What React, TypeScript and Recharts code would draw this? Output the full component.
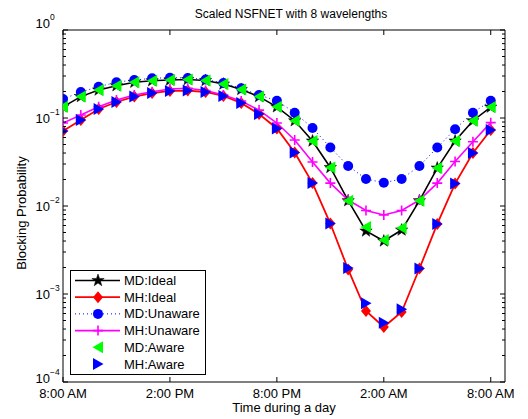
import React from "react";
import { LineChart, Line, XAxis, YAxis, Legend } from "recharts";

// hours after 8:00 AM
const HOURS = [0, 1, 2, 3, 4, 5, 6, 7, 8, 9, 10, 11, 12, 13, 14, 15, 16, 17, 18, 19, 20, 21, 22, 23, 24];
const TIME_TICKS = [0, 6, 12, 18, 24];
const TIME_LABELS = ["8:00 AM", "2:00 PM", "8:00 PM", "2:00 AM", "8:00 AM"];

const MD_IDEAL = [0.134, 0.175, 0.208, 0.233, 0.255, 0.265, 0.27, 0.274, 0.267, 0.243, 0.211, 0.175, 0.134, 0.0931, 0.0548, 0.0274, 0.0115, 0.0052, 0.004, 0.00533, 0.0115, 0.027, 0.0548, 0.0931, 0.133];
const MH_IDEAL = [0.0711, 0.0949, 0.1266, 0.152, 0.175, 0.192, 0.203, 0.205, 0.1975, 0.178, 0.148, 0.111, 0.076, 0.0406, 0.0182, 0.00632, 0.0019, 0.000641, 0.000422, 0.000624, 0.00195, 0.00625, 0.018, 0.04, 0.0731];
const MD_UNAWARE = [0.164, 0.1975, 0.227, 0.255, 0.27, 0.2825, 0.287, 0.285, 0.274, 0.25, 0.2175, 0.1826, 0.157, 0.1148, 0.077, 0.0462, 0.0285, 0.0203, 0.0184, 0.0203, 0.0285, 0.0462, 0.0745, 0.1148, 0.157];
const MH_UNAWARE = [0.0877, 0.108, 0.134, 0.16, 0.1826, 0.199, 0.214, 0.2175, 0.205, 0.1826, 0.156, 0.123, 0.0877, 0.0562, 0.0316, 0.0182, 0.0117, 0.00889, 0.0079, 0.00889, 0.0117, 0.0182, 0.032, 0.0538, 0.0885];
const MD_AWARE = [0.134, 0.175, 0.208, 0.233, 0.255, 0.265, 0.27, 0.274, 0.267, 0.243, 0.211, 0.175, 0.134, 0.0931, 0.0548, 0.0274, 0.0115, 0.00577, 0.00411, 0.00562, 0.0115, 0.027, 0.0548, 0.0931, 0.133];
const MH_AWARE = [0.0711, 0.0949, 0.1266, 0.152, 0.175, 0.192, 0.203, 0.205, 0.1975, 0.178, 0.148, 0.111, 0.076, 0.0406, 0.0182, 0.00632, 0.00197, 0.000783, 0.000472, 0.00067, 0.00195, 0.00625, 0.018, 0.04, 0.0731];

const FONT = "'Liberation Sans', Arial, Helvetica, sans-serif";

type Kind = "star" | "diamond" | "circle" | "plus" | "tleft" | "tright";

const SERIES: { key: string; name: string; color: string; kind: Kind; line: boolean; dash?: string; width: number }[] = [
  { key: "mdIdeal", name: "MD:Ideal", color: "#000000", kind: "star", line: true, width: 1.6 },
  { key: "mhIdeal", name: "MH:Ideal", color: "#ff0000", kind: "diamond", line: true, width: 1.8 },
  { key: "mdUnaware", name: "MD:Unaware", color: "#0000ff", kind: "circle", line: true, dash: "1 3", width: 1 },
  { key: "mhUnaware", name: "MH:Unaware", color: "#ff00ff", kind: "plus", line: true, width: 1.6 },
  { key: "mdAware", name: "MD:Aware", color: "#00ff00", kind: "tleft", line: false, width: 0 },
  { key: "mhAware", name: "MH:Aware", color: "#0000ff", kind: "tright", line: false, width: 0 },
];

const data = HOURS.map((h, i) => ({
  h,
  mdIdeal: MD_IDEAL[i],
  mhIdeal: MH_IDEAL[i],
  mdUnaware: MD_UNAWARE[i],
  mhUnaware: MH_UNAWARE[i],
  mdAware: MD_AWARE[i],
  mhAware: MH_AWARE[i],
}));

// log ticks: decades + minor ticks
const Y_TICKS: number[] = [];
for (let d = -4; d <= 0; d++) {
  Y_TICKS.push(Math.pow(10, d));
  if (d < 0) for (let m = 2; m <= 9; m++) Y_TICKS.push(m * Math.pow(10, d));
}

function isDecade(v: number) {
  const l = Math.log10(v);
  return Math.abs(l - Math.round(l)) < 1e-6;
}

function Marker({ kind, cx, cy, color }: { kind: Kind; cx: number; cy: number; color: string }) {
  if (cx == null || cy == null || isNaN(cx) || isNaN(cy)) return null;
  switch (kind) {
    case "star": {
      const pts: string[] = [];
      for (let k = 0; k < 10; k++) {
        const r = k % 2 === 0 ? 6.5 : 2.6;
        const a = -Math.PI / 2 + (k * Math.PI) / 5;
        pts.push(`${cx + r * Math.cos(a)},${cy + r * Math.sin(a)}`);
      }
      return <polygon points={pts.join(" ")} fill={color} stroke={color} strokeWidth={0.5} />;
    }
    case "diamond":
      return <path d={`M ${cx} ${cy - 6} L ${cx + 5} ${cy} L ${cx} ${cy + 6} L ${cx - 5} ${cy} Z`} fill={color} />;
    case "circle":
      return <circle cx={cx} cy={cy} r={5} fill={color} />;
    case "plus":
      return (
        <path d={`M ${cx - 5} ${cy} L ${cx + 5} ${cy} M ${cx} ${cy - 5} L ${cx} ${cy + 5}`} stroke={color} strokeWidth={1.6} fill="none" />
      );
    case "tleft":
      return <path d={`M ${cx - 5.5} ${cy} L ${cx + 5} ${cy - 6} L ${cx + 5} ${cy + 6} Z`} fill={color} />;
    case "tright":
      return <path d={`M ${cx + 5.5} ${cy} L ${cx - 5} ${cy - 6} L ${cx - 5} ${cy + 6} Z`} fill={color} />;
  }
  return null;
}

function makeDot(s: (typeof SERIES)[number]) {
  return (p: any) => <Marker key={`${s.key}-${p.index}`} kind={s.kind} cx={p.cx} cy={p.cy} color={s.color} />;
}

function LeftTick(props: any) {
  const { x, y, payload } = props;
  const v = payload.value;
  const major = isDecade(v);
  const len = major ? 5 : 3;
  const exp = Math.round(Math.log10(v));
  // MATLAB nudges the end labels inward
  const dy = exp === 0 ? -2 : exp === -4 ? 1 : 5;
  return (
    <g>
      <line x1={x} y1={y} x2={x + len} y2={y} stroke="#000" strokeWidth={1} />
      {major && (
        <text x={x - 13} y={y + dy} fontSize={13} fontFamily={FONT} textAnchor="end" fill="#000">
          10
        </text>
      )}
      {major && (
        <text x={x - 13} y={y + dy - 8} fontSize={8.5} fontFamily={FONT} textAnchor="start" fill="#000">
          {exp === 0 ? "0" : `\u2212${-exp}`}
        </text>
      )}
    </g>
  );
}

function RightTick(props: any) {
  const { x, y, payload } = props;
  const len = isDecade(payload.value) ? 5 : 3;
  return <line x1={x} y1={y} x2={x - len} y2={y} stroke="#000" strokeWidth={1} />;
}

function BottomTick(props: any) {
  const { x, y, payload, index } = props;
  return (
    <g>
      <line x1={x} y1={y} x2={x} y2={y - 5} stroke="#000" strokeWidth={1} />
      <text x={x} y={y + 16} fontSize={13} fontFamily={FONT} textAnchor="middle" fill="#000">
        {TIME_LABELS[index] ?? TIME_LABELS[TIME_TICKS.indexOf(payload.value)]}
      </text>
    </g>
  );
}

function TopTick(props: any) {
  const { x, y } = props;
  return <line x1={x} y1={y} x2={x} y2={y + 5} stroke="#000" strokeWidth={1} />;
}

function LegendBox() {
  const rowH = 16.7;
  return (
    <svg width={136} height={105} style={{ display: "block" }}>
      <rect x={0.5} y={0.5} width={135} height={104} fill="#fff" stroke="#000" strokeWidth={1} />
      {SERIES.map((s, i) => {
        const cy = 10.5 + i * rowH;
        return (
          <g key={s.key}>
            {s.line && (
              <line x1={5} y1={cy} x2={50} y2={cy} stroke={s.color} strokeWidth={s.width} strokeDasharray={s.dash} />
            )}
            <Marker kind={s.kind} cx={28} cy={cy} color={s.color} />
            <text x={54} y={cy + 4.5} fontSize={13} fontFamily={FONT} fill="#000">
              {s.name}
            </text>
          </g>
        );
      })}
    </svg>
  );
}

export default function App() {
  return (
    <div style={{ position: "absolute", left: 0, top: 0, width: 528, height: 419, background: "#fff", fontFamily: FONT }}>
      <div style={{ position: "absolute", left: 0, top: 7, width: 582, textAlign: "center", fontSize: 12, color: "#000" }}>
        Scaled NSFNET with 8 wavelengths
      </div>
      <div style={{ position: "absolute", left: 0, top: 400, width: 568, textAlign: "center", fontSize: 13, color: "#000" }}>
        Time during a day
      </div>
      <div
        style={{
          position: "absolute",
          left: 21,
          top: 213,
          fontSize: 13,
          color: "#000",
          whiteSpace: "nowrap",
          transform: "translate(-50%, -50%) rotate(-90deg)",
        }}
      >
        Blocking Probability
      </div>
      <LineChart width={528} height={419} data={data} margin={{ top: 20, right: 13, bottom: 17, left: 23 }}>
        <XAxis
          xAxisId="b"
          dataKey="h"
          type="number"
          domain={[0, 24.8]}
          ticks={TIME_TICKS}
          interval={0}
          allowDataOverflow
          height={20}
          tickSize={0}
          tickMargin={0}
          tickLine={false}
          axisLine={{ stroke: "#000", strokeWidth: 1 }}
          tick={<BottomTick />}
        />
        <XAxis
          xAxisId="t"
          orientation="top"
          dataKey="h"
          type="number"
          domain={[0, 24.8]}
          ticks={TIME_TICKS}
          interval={0}
          allowDataOverflow
          height={10}
          tickSize={0}
          tickMargin={0}
          tickLine={false}
          axisLine={{ stroke: "#000", strokeWidth: 1 }}
          tick={<TopTick />}
        />
        <YAxis
          yAxisId="l"
          scale="log"
          type="number"
          domain={[1e-4, 1]}
          ticks={Y_TICKS}
          interval={0}
          allowDataOverflow
          width={40}
          tickSize={0}
          tickMargin={0}
          tickLine={false}
          axisLine={{ stroke: "#000", strokeWidth: 1 }}
          tick={<LeftTick />}
        />
        <YAxis
          yAxisId="r"
          orientation="right"
          scale="log"
          type="number"
          domain={[1e-4, 1]}
          ticks={Y_TICKS}
          interval={0}
          allowDataOverflow
          width={10}
          tickSize={0}
          tickMargin={0}
          tickLine={false}
          axisLine={{ stroke: "#000", strokeWidth: 1 }}
          tick={<RightTick />}
        />
        {SERIES.map((s) => (
          <Line
            key={s.key}
            xAxisId="b"
            yAxisId="l"
            dataKey={s.key}
            name={s.name}
            type="linear"
            stroke={s.line ? s.color : "none"}
            strokeWidth={s.width}
            strokeDasharray={s.dash}
            dot={makeDot(s)}
            activeDot={false}
            isAnimationActive={false}
          />
        ))}
        <Legend
          layout="vertical"
          align="center"
          verticalAlign="middle"
          content={() => <LegendBox />}
          wrapperStyle={{ left: 70, top: 270, width: 136, height: 105 }}
        />
      </LineChart>
    </div>
  );
}
